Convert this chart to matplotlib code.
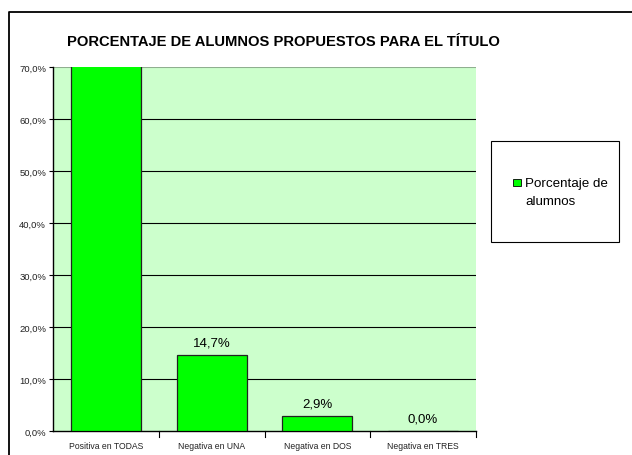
import matplotlib
matplotlib.use("Agg")
import matplotlib.pyplot as plt
from matplotlib.patches import Rectangle
from matplotlib.lines import Line2D

categorias = ["Positiva en TODAS", "Negativa en UNA", "Negativa en DOS", "Negativa en TRES"]
porcentajes = [82.4, 14.7, 2.9, 0.0]
etiquetas = ["82,4%", "14,7%", "2,9%", "0,0%"]
yticks = [0, 10, 20, 30, 40, 50, 60, 70]
ytick_labels = ["0,0%", "10,0%", "20,0%", "30,0%", "40,0%", "50,0%", "60,0%", "70,0%"]

plt.rcParams["font.family"] = ["Liberation Sans", "DejaVu Sans"]

fig = plt.figure(figsize=(6.32, 4.56), dpi=100)
W, H = 632, 456

# outer chart frame (cut off at right and bottom, like the source)
fig.lines.append(Line2D([9 / W, 9 / W, 1.0], [0.0, 1 - 13 / H, 1 - 13 / H],
                        transform=fig.transFigure, color="black", linewidth=1.3))

ax = fig.add_axes([53 / W, (456 - 432) / H, (476 - 53) / W, (432 - 68) / H])
ax.set_facecolor("#CCFFCC")
x = range(len(categorias))
ax.bar(x, porcentajes, width=0.66, color="#00FF00", edgecolor="#222222", linewidth=0.9,
       zorder=3)
for i, (v, t) in enumerate(zip(porcentajes, etiquetas)):
    if v + 1.2 < 70:
        ax.text(i, v + 1.2, t, ha="center", va="bottom", fontsize=9.5, zorder=4)

ax.set_xlim(-0.5, 3.5)
ax.set_ylim(0, 70)
ax.set_yticks(yticks)
ax.set_yticklabels(ytick_labels, fontsize=6.8, color="#222222")
ax.set_xticks(list(x))
ax.set_xticklabels(categorias, fontsize=6.2, color="#222222")
ax.tick_params(axis="x", length=0, pad=7)
ax.tick_params(axis="y", length=3, width=0.8, pad=2)
for b in [0.5, 1.5, 2.5, 3.5]:
    ax.plot([b, b], [0, -1.2], color="black", linewidth=0.8, clip_on=False)
for yv in yticks[1:-1]:
    ax.axhline(yv, color="black", linewidth=0.8, zorder=1)
ax.axhline(70, color="#8FAF8F", linewidth=1.5, zorder=1)
ax.spines["top"].set_visible(False)
ax.spines["right"].set_visible(False)
ax.spines["left"].set_linewidth(1.0)
ax.spines["bottom"].set_linewidth(1.0)

fig.text(283 / W, 1 - 42 / H, "PORCENTAJE DE ALUMNOS PROPUESTOS PARA EL TÍTULO",
         ha="center", va="center", fontsize=10.6, fontweight="bold")

# legend box
fig.patches.append(Rectangle((491 / W, 1 - 243 / H), 128 / W, 101 / H, transform=fig.transFigure,
                             facecolor="white", edgecolor="black", linewidth=0.8))
fig.patches.append(Rectangle((513 / W, 1 - 187 / H), 8 / W, 7 / H, transform=fig.transFigure,
                             facecolor="#00FF00", edgecolor="black", linewidth=0.6))
fig.text(525 / W, 1 - 184 / H, "Porcentaje de", ha="left", va="center", fontsize=9.6)
fig.text(525 / W, 1 - 202 / H, "alumnos", ha="left", va="center", fontsize=9.6)

fig.savefig("out.png", dpi=100)
